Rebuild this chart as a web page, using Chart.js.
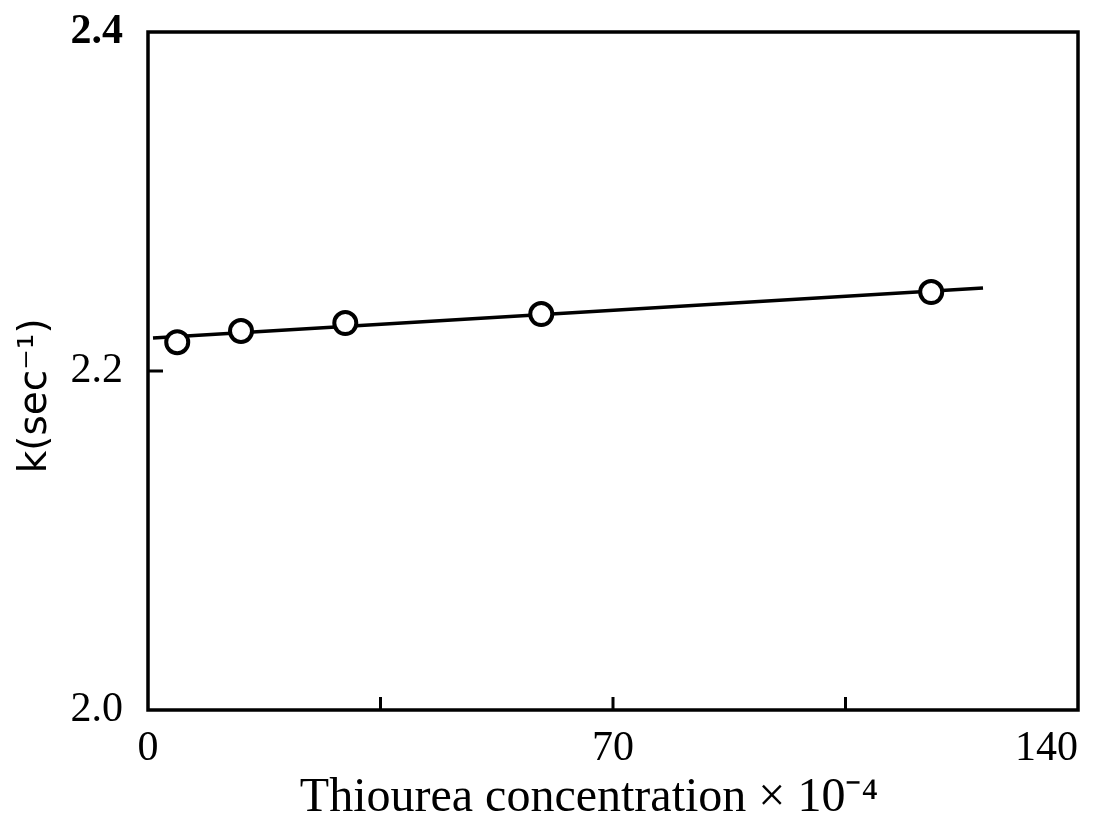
<!DOCTYPE html>
<html>
<head>
<meta charset="utf-8">
<script src="https://cdn.jsdelivr.net/npm/chart.js@4"></script>
<style>
	html, body { margin: 0; padding: 0; background: #fff; overflow: hidden; }
	#wrap { width: 1094px; height: 832px; }
</style>
</head>
<body>
<div id="wrap"><canvas id="chart"></canvas></div>
<script>

const conc = [ 4.4, 14.0, 29.7, 59.2, 117.9 ];
const kVals = [ 2.217, 2.2236, 2.2283, 2.2336, 2.2466 ];

// fitted line ends
const fitX = [ 0.75, 125.7 ];
const fitY = [ 2.2195, 2.249 ];

const xLabels = [ 0, 70, 140 ];
const yLabels = [ 2.0, 2.2, 2.4 ];
const xInnerTicks = [ 35, 70, 105 ];
const yInnerTicks = [ 2.2 ];

const frame = {
	id: 'frame',
	afterDraw( c ) {
		const a = c.chartArea, ctx = c.ctx;
		const xs = c.scales.x, ys = c.scales.y;
		ctx.save();
		ctx.strokeStyle = '#000';
		ctx.lineWidth = 3.5;
		ctx.strokeRect( a.left, a.top, a.right - a.left, a.bottom - a.top );
		ctx.lineWidth = 3;
		ctx.beginPath();
		xInnerTicks.forEach( v => {
			const px = xs.getPixelForValue( v );
			ctx.moveTo( px, a.bottom );
			ctx.lineTo( px, a.bottom - 13 );
		} );
		yInnerTicks.forEach( v => {
			const py = ys.getPixelForValue( v );
			ctx.moveTo( a.left, py );
			ctx.lineTo( a.left + 15, py );
		} );
		ctx.stroke();
		ctx.restore();
	}
};

new Chart( 'chart', {
	type: 'scatter',
	data: {
		datasets: [ {
			data: conc.map( ( x, i ) => ( { x: x, y: kVals[i] } ) ),
			showLine: false,
			pointRadius: 11,
			pointBorderWidth: 4,
			pointBorderColor: '#000',
			pointBackgroundColor: '#fff',
			order: 1
		}, {
			data: fitX.map( ( x, i ) => ( { x: x, y: fitY[i] } ) ),
			showLine: true,
			borderColor: '#000',
			borderWidth: 3.5,
			pointRadius: 0,
			order: 2
		} ]
	},
	options: {
		responsive: true,
		maintainAspectRatio: false,
		animation: false,
		layout: { padding: { top: 32, right: 16, left: 0, bottom: 0 } },
		plugins: {
			legend: { display: false },
			tooltip: { enabled: false }
		},
		scales: {
			x: {
				type: 'linear',
				min: 0,
				max: 140,
				afterBuildTicks: s => { s.ticks = xLabels.map( v => ( { value: v } ) ); },
				afterFit: s => {
					s.height = 122;
					s.paddingLeft = 0;
					s.paddingRight = 0;
				},
				grid: { display: false },
				border: { display: false },
				ticks: {
					color: '#000',
					padding: 6,
					maxRotation: 0,
					// last label sits left of the corner in the original
					callback: v => v === 140 ? '140      ' : String( v ),
					font: { family: 'Liberation Serif', size: 42 }
				},
				title: {
					display: true,
					text: 'Thiourea concentration \u00d7 10\u207b\u2074    ',
					color: '#000',
					padding: { top: 0, bottom: 5 },
					font: { family: 'Liberation Serif', size: 48 }
				}
			},
			y: {
				type: 'linear',
				min: 2.0,
				max: 2.4,
				afterBuildTicks: s => { s.ticks = yLabels.map( v => ( { value: v } ) ); },
				afterFit: s => {
					s.width = 148;
					s.paddingTop = 0;
					s.paddingBottom = 0;
				},
				grid: { display: false },
				border: { display: false },
				ticks: {
					color: '#000',
					padding: 17,
					callback: v => v.toFixed( 1 ),
					font: ctx => ( {
						family: 'Liberation Serif',
						size: 42,
						weight: ctx.tick && ctx.tick.value === 2.4 ? 'bold' : 'normal'
					} )
				},
				title: {
					display: true,
					text: 'k(sec\u207b\u00b9)    ',
					color: '#000',
					padding: { top: 12, bottom: 0 },
					font: { family: 'DejaVu Sans', size: 39 }
				}
			}
		}
	},
	plugins: [ frame ]
} );

</script>
</body>
</html>
